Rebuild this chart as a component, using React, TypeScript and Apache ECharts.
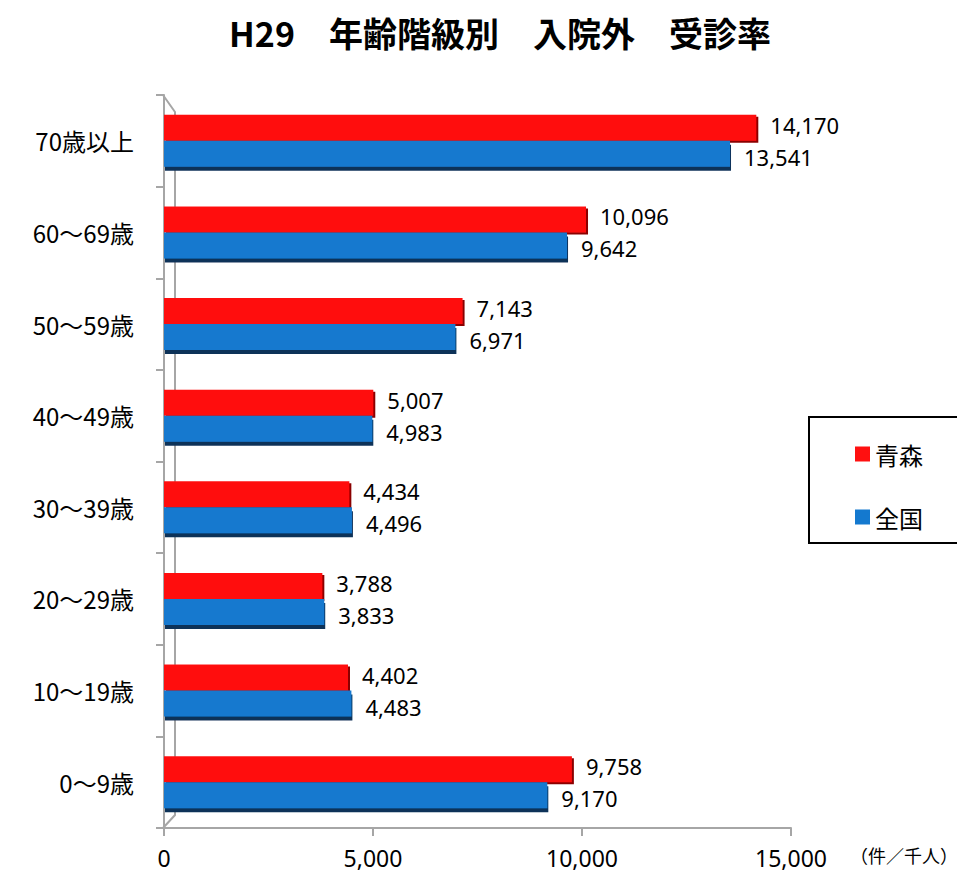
import React, { useEffect, useRef } from "react";
import * as echarts from "echarts";

const categories = ["0～9歳", "10～19歳", "20～29歳", "30～39歳", "40～49歳", "50～59歳", "60～69歳", "70歳以上"];
const aomori = [9758, 4402, 3788, 4434, 5007, 7143, 10096, 14170];
const zenkoku = [9170, 4483, 3833, 4496, 4983, 6971, 9642, 13541];
const seriesNames = ["青森", "全国"];
const xMin = 0;
const xMax = 15000;
const xInterval = 5000;
const titleText = "H29　年齢階級別　入院外　受診率";
const unitText = "（件／千人）";

const JP = '"Noto Sans CJK JP", "Noto Sans", sans-serif';
const NUM = '"Noto Sans", "Liberation Sans", sans-serif';

export default function App() {
  const ref = useRef<HTMLDivElement>(null);
  useEffect(() => {
    if (!ref.current) return;
    const chart = echarts.init(ref.current, null, { renderer: "svg" });
    const axisGray = "#a6a6a6";
    const label = {
      show: true,
      position: "right" as const,
      distance: 14,
      color: "#000",
      fontSize: 22,
      lineHeight: 20,
      fontFamily: NUM,
      formatter: (p: any) => Number(p.value).toLocaleString("en-US"),
    };
    chart.setOption({
      animation: false,
      backgroundColor: "#fff",
      title: {
        text: titleText,
        left: 495,
        textAlign: "center",
        top: 10,
        textStyle: { fontSize: 34, fontWeight: "bold", fontFamily: JP, color: "#000" },
      },
      grid: { left: 164, right: 166, top: 95, bottom: 46 },
      legend: {
        data: seriesNames,
        orient: "vertical",
        left: 850,
        top: 436,
        itemWidth: 15,
        itemHeight: 15,
        itemGap: 37,
        icon: "rect",
        textStyle: { fontSize: 24, fontFamily: JP, color: "#000", lineHeight: 26 },
      },
      xAxis: {
        type: "value",
        min: xMin,
        max: xMax,
        interval: xInterval,
        splitLine: { show: false },
        axisLine: { show: true, lineStyle: { color: axisGray, width: 2 } },
        axisTick: { show: true, length: 8, lineStyle: { color: axisGray, width: 2 } },
        axisLabel: {
          fontSize: 23,
          fontFamily: NUM,
          color: "#000",
          margin: 18,
          formatter: (v: number) => v.toLocaleString("en-US"),
        },
      },
      yAxis: {
        type: "category",
        data: categories,
        axisLine: { show: true, lineStyle: { color: axisGray, width: 2 } },
        axisTick: { show: true, length: 8, lineStyle: { color: axisGray, width: 2 } },
        axisLabel: { fontSize: 24, fontFamily: JP, color: "#000", margin: 30 },
      },
      graphic: [
        {
          type: "polyline",
          shape: { points: [[163, 95], [175, 112], [175, 815], [163, 828]] },
          style: { stroke: axisGray, lineWidth: 2, fill: "none" },
          silent: true,
        },
        {
          type: "rect",
          shape: { x: 809, y: 417, width: 170, height: 126 },
          style: { stroke: "#000", lineWidth: 2, fill: "#fff" },
          z: -1,
          silent: true,
        },
        {
          type: "text",
          style: { text: unitText, x: 850, y: 855, fontSize: 18, fontFamily: JP, fill: "#000", verticalAlign: "middle" },
          silent: true,
        },
      ],
      series: [
        {
          name: seriesNames[0],
          type: "bar",
          data: aomori,
          barWidth: 26,
          barGap: "0%",
          itemStyle: { color: "#ff1010", shadowColor: "#8a0000", shadowOffsetX: 2, shadowOffsetY: 2 },
          label: { ...label, offset: [0, -3] },
          z: 2,
        },
        {
          name: seriesNames[1],
          type: "bar",
          data: zenkoku,
          barWidth: 26,
          barGap: "0%",
          itemStyle: { color: "#1479cf", shadowColor: "#0b3358", shadowOffsetX: 1, shadowOffsetY: 4 },
          label: { ...label, offset: [0, 3] },
          z: 3,
        },
      ],
    });
    return () => chart.dispose();
  }, []);
  return <div ref={ref} style={{ position: "fixed", left: 0, top: 0, width: 957, height: 874 }} />;
}
